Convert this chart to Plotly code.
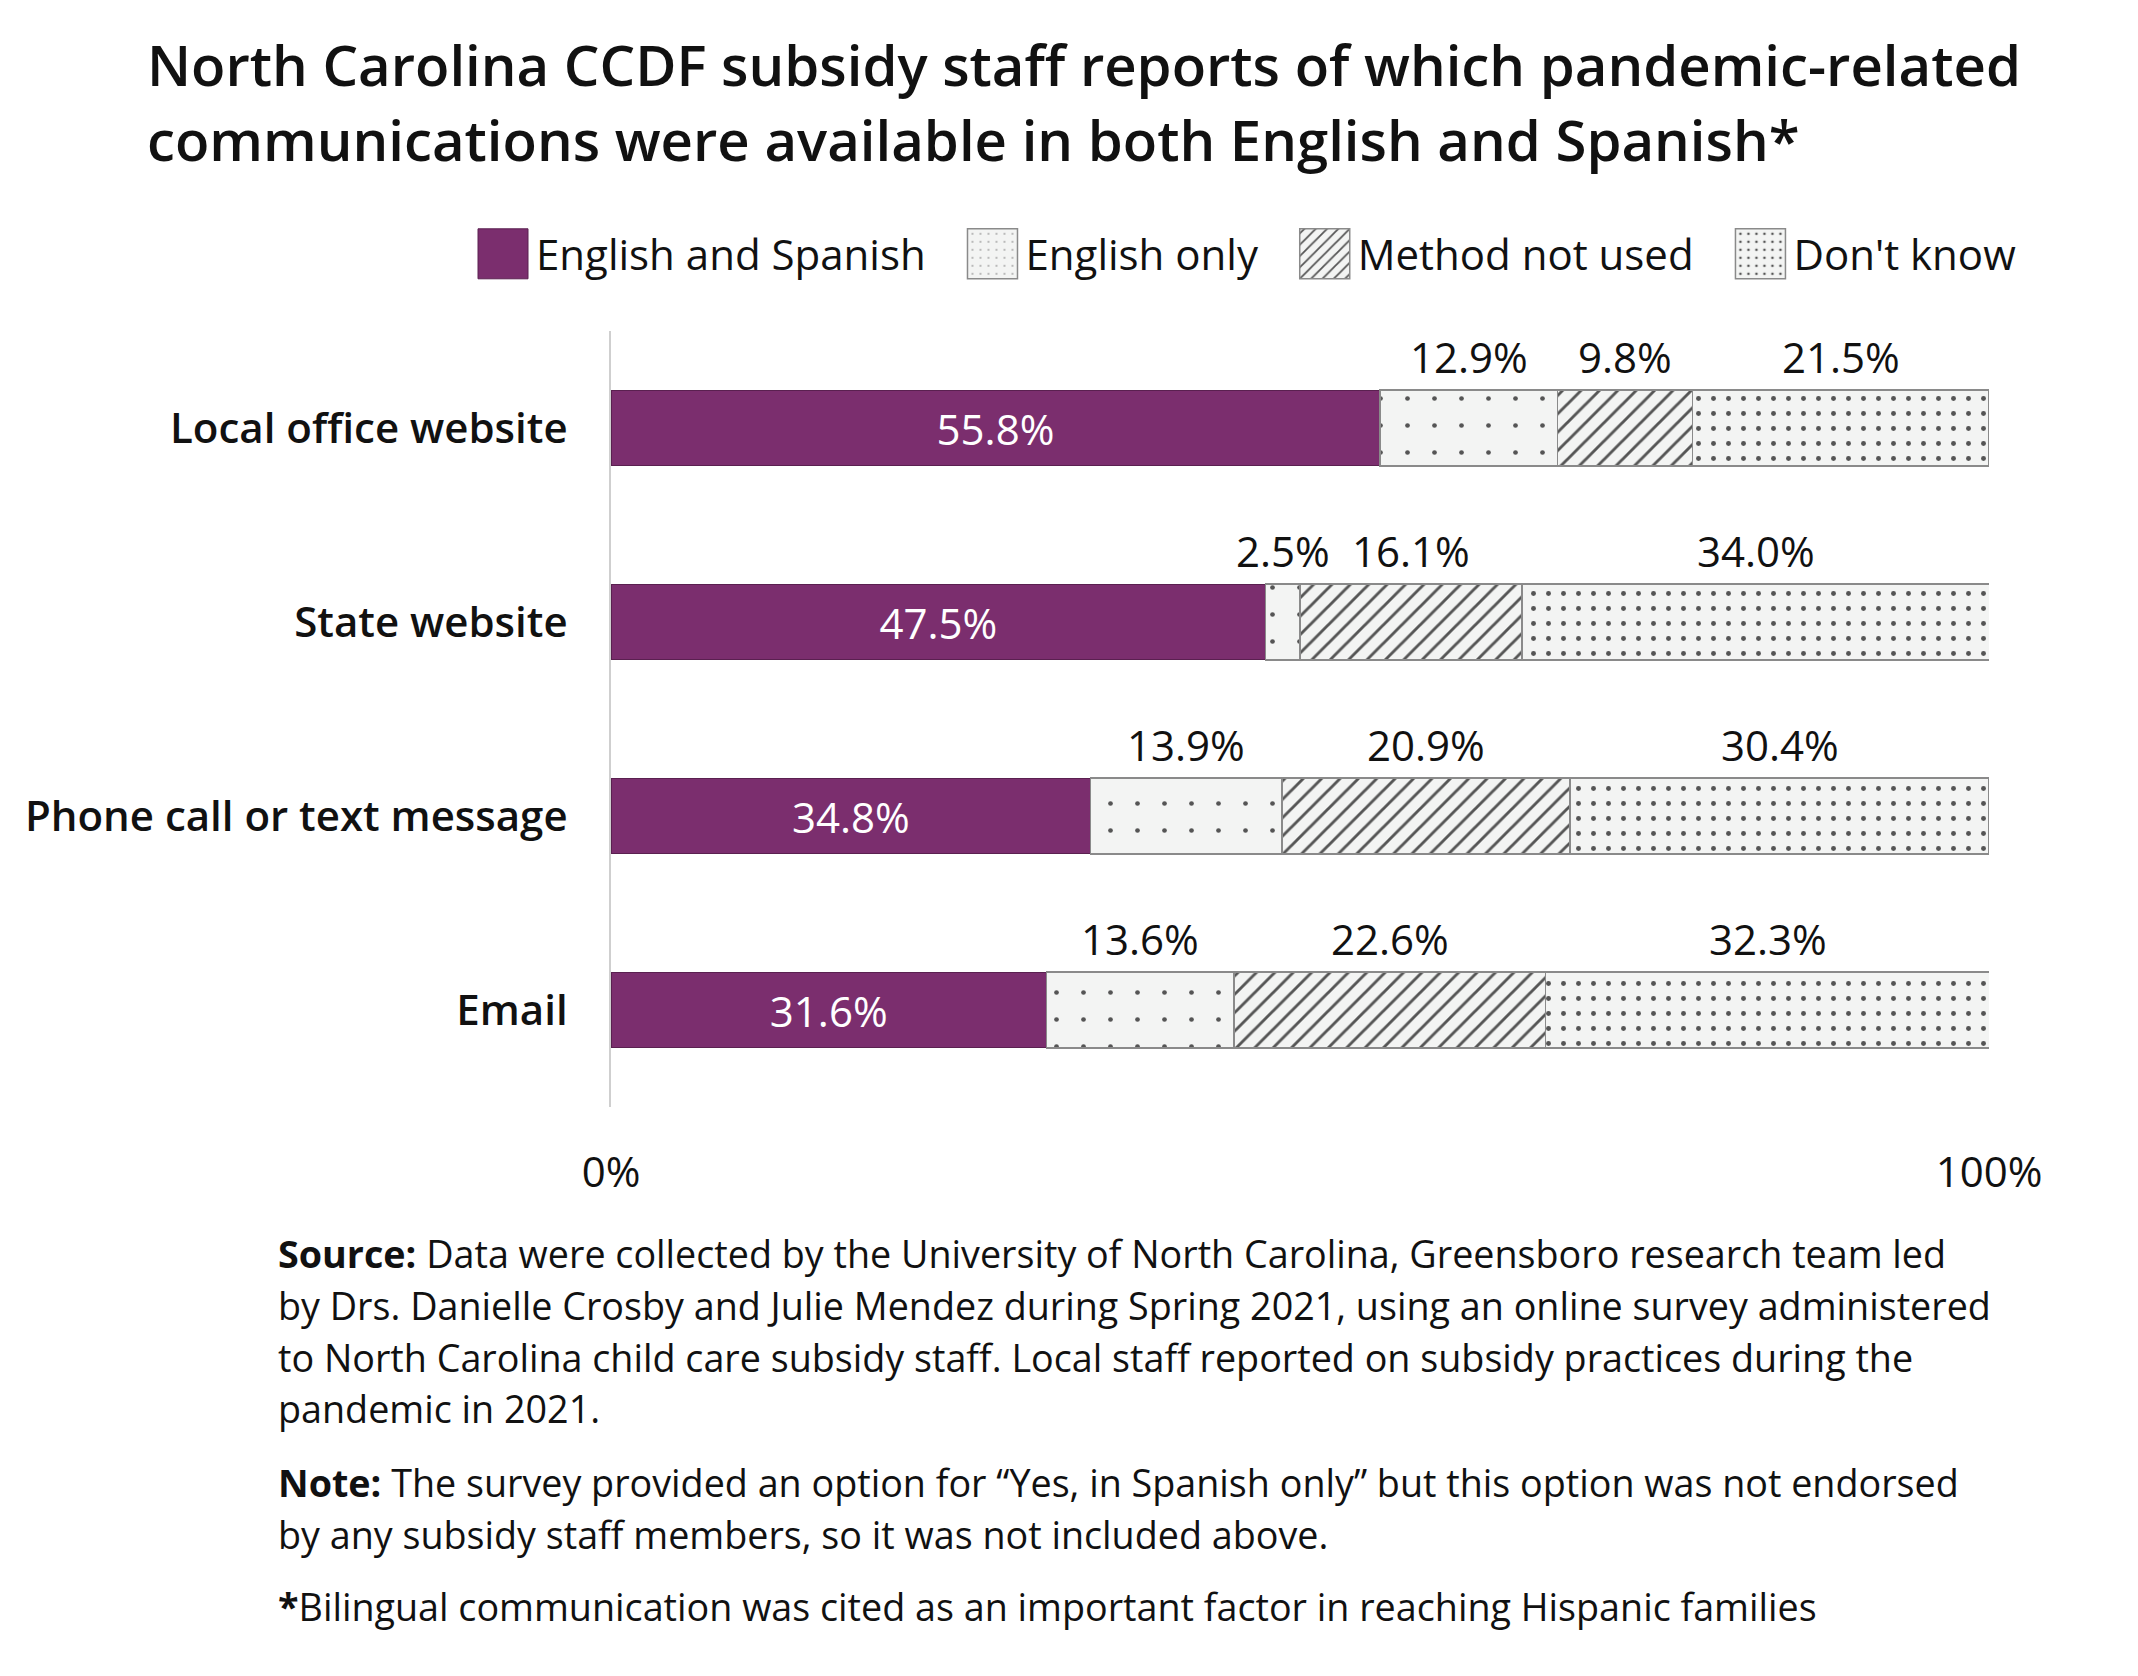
import plotly.graph_objects as go

categories = ["Local office website", "State website", "Phone call or text message", "Email"]
series_names = ["English and Spanish", "English only", "Method not used", "Don't know"]
eng_spa = [55.8, 47.5, 34.8, 31.6]
eng_only = [12.9, 2.5, 13.9, 13.6]
not_used = [9.8, 16.1, 20.9, 22.6]
dont_know = [21.5, 34.0, 30.4, 32.3]
x_tick_vals = [0, 100]
x_tick_text = ["0%", "100%"]

title_lines = [
    "North Carolina CCDF subsidy staff reports of which pandemic-related",
    "communications were available in both English and Spanish*",
]
note_lines = [
    "<b>Source:</b> Data were collected by the University of North Carolina, Greensboro research team led",
    "by Drs. Danielle Crosby and Julie Mendez during Spring 2021, using an online survey administered",
    "to North Carolina child care subsidy staff. Local staff reported on subsidy practices during the",
    "pandemic in 2021.",
    "<b>Note:</b> The survey provided an option for \u201cYes, in Spanish only\u201d but this option was not endorsed",
    "by any subsidy staff members, so it was not included above.",
    "<b>*</b>Bilingual communication was cited as an important factor in reaching Hispanic families",
]

W, H = 2138, 1676
OFF = 8  # page body margin
L, R, T, B = 611 - OFF, 1989 - OFF, 331 - OFF, 1107 - OFF
FONT = "Open Sans"
TXT = "#111111"
PURPLE = "#7b2e6e"
BG = "#f3f4f3"
FG = "#555555"
EDGE = "#8a8a8a"
PAD = "\u00a0\u00a0\u2009"  # spacing after legend labels


def px(X):
    return (X - OFF - L) / (R - L)


def py(Y):
    return (B - (Y - OFF)) / (B - T)


fig = go.Figure()

fig.add_trace(go.Bar(
    y=categories, x=eng_spa, orientation="h", name=series_names[0] + PAD,
    marker=dict(color=PURPLE, line=dict(color="#5a2050", width=1)),
    text=[f"{v:.1f}%" for v in eng_spa], textposition="inside",
    insidetextanchor="middle",
    textfont=dict(family=FONT, size=42, color="white"),
    width=0.39,
))
patterns = [
    dict(shape=".", bgcolor=BG, fgcolor=FG, size=27, solidity=0.024, fillmode="replace"),
    dict(shape="/", bgcolor=BG, fgcolor=FG, size=13, solidity=0.22, fillmode="replace"),
    dict(shape=".", bgcolor=BG, fgcolor=FG, size=15, solidity=0.085, fillmode="replace"),
]
for name, vals, pat in zip(series_names[1:], [eng_only, not_used, dont_know], patterns):
    fig.add_trace(go.Bar(
        y=categories, x=vals, orientation="h", name=name + PAD,
        marker=dict(color=BG, pattern=pat, line=dict(color=EDGE, width=1.5)),
        width=0.39, hoverinfo="x+name",
    ))

annotations = []
# data labels above the patterned segments
for ci, cat in enumerate(categories):
    base = eng_spa[ci]
    for vals in [eng_only, not_used, dont_know]:
        v = vals[ci]
        annotations.append(dict(
            x=base + v / 2, y=cat, xref="x", yref="y", text=f"{v:.1f}%",
            showarrow=False, yshift=72, xanchor="center", yanchor="middle",
            font=dict(family=FONT, size=42, color=TXT),
        ))
        base += v

# title
for i, line in enumerate(title_lines):
    annotations.append(dict(
        x=px(145), y=py([64, 139][i]), xref="paper", yref="paper", text=line,
        showarrow=False, xanchor="left", yanchor="middle",
        font=dict(family=FONT, size=56.3, color=TXT, weight=600),
    ))

# notes
note_y = [1253, 1305, 1357, 1408, 1482, 1534, 1606]
for line, Y in zip(note_lines, note_y):
    annotations.append(dict(
        x=px(276), y=py(Y), xref="paper", yref="paper", text=line,
        showarrow=False, xanchor="left", yanchor="middle",
        font=dict(family=FONT, size=37.7, color=TXT),
    ))

fig.update_layout(
    width=W, height=H,
    margin=dict(l=L, r=W - R, t=T, b=H - B, pad=0),
    barmode="stack",
    paper_bgcolor="white", plot_bgcolor="white",
    font=dict(family=FONT, color=TXT),
    showlegend=True,
    legend=dict(
        orientation="h", xref="paper", yref="paper",
        x=px(470), xanchor="left", y=py(254), yanchor="middle",
        font=dict(family=FONT, size=42, color=TXT),
        traceorder="normal", itemwidth=56,
    ),
    xaxis=dict(
        range=[0, 100], tickvals=x_tick_vals, ticktext=x_tick_text,
        showgrid=False, zeroline=False, showline=False, ticks="",
        tickfont=dict(family=FONT, size=42, color=TXT),
        ticklabelstandoff=37, fixedrange=True,
    ),
    yaxis=dict(
        categoryorder="array", categoryarray=categories[::-1],
        autorange=False, range=[-0.5, 3.5],
        showgrid=False, zeroline=False, showline=True, linecolor="#cfcfcf", linewidth=2,
        ticks="", tickfont=dict(family=FONT, size=42, color=TXT, weight=600),
        ticklabelstandoff=33,
    ),
    annotations=annotations,
    bargap=0.6,
)

# enlarge the legend swatches to match the reference's large square keys
post_js = """
var gd = document.getElementById('{plot_id}');
function enlargeKeys() {
  try {
    gd.querySelectorAll('.legendpoints path').forEach(function (p) {
      p.setAttribute('d', 'M25,25H-25V-25H25Z');
    });
  } catch (e) {}
}
enlargeKeys();
if (gd.on) { gd.on('plotly_afterplot', enlargeKeys); }
setTimeout(enlargeKeys, 50);
setTimeout(enlargeKeys, 300);
"""

fig.write_html("out.html", post_script=post_js)
